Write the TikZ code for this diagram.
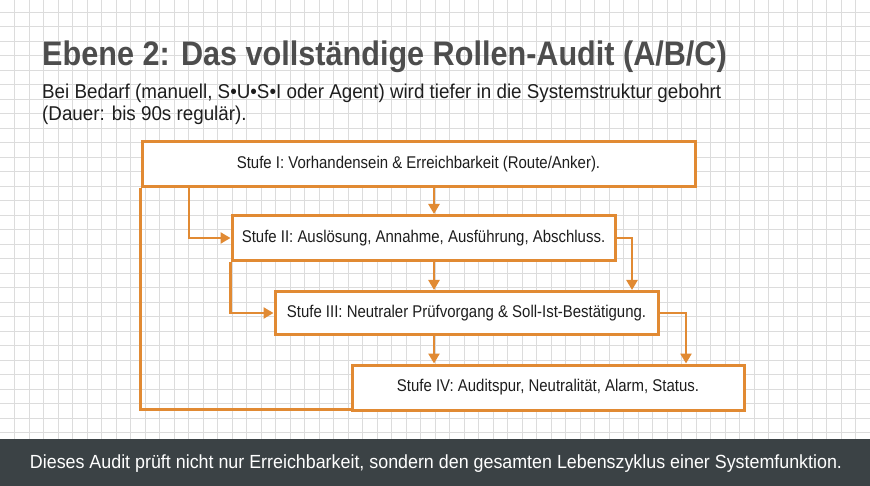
\documentclass[tikz,border=0pt]{standalone}
\usepackage{fontspec}
\setmainfont{Liberation Sans}
\newfontfamily\titlefont[FakeStretch=0.90]{Liberation Sans}
\newfontfamily\subfont[FakeStretch=0.94]{Liberation Sans}
\newfontfamily\boxfont[FakeStretch=0.88]{Liberation Sans}
\newfontfamily\footfont[FakeStretch=0.94]{Liberation Sans}
\usetikzlibrary{arrows.meta,calc}
\definecolor{gridc}{HTML}{DCDCDC}
\definecolor{orng}{HTML}{E18A33}
\definecolor{footc}{HTML}{3B4245}
\definecolor{titlec}{HTML}{4D4D4D}
\definecolor{txtc}{HTML}{1E1E1E}
\tikzset{
  stufe/.style={draw=orng, line width=3pt, fill=white, inner sep=0pt,
    minimum height=45pt, text=txtc, font=\boxfont\fontsize{17}{20}\selectfont},
  conn/.style={draw=orng, line width=2.5pt},
  arr/.style={conn, -{Triangle[width=11pt,length=10pt]}},
}
\begin{document}
\begin{tikzpicture}[x=1pt,y=-1pt]
\useasboundingbox (0,0) rectangle (870,486);
\fill[white] (0,0) rectangle (870,486);
% grid
\foreach \i in {1,...,59} {\draw[gridc, line width=0.8pt] (14.5*\i,0) -- (14.5*\i,439);}
\foreach \j in {0,...,29} {\draw[gridc, line width=0.8pt] (0,12.3+14.5*\j) -- (870,12.3+14.5*\j);}
% footer
\fill[footc] (0,439) rectangle (870,486);
\node[text=white, font=\footfont\fontsize{19}{23}\selectfont] (foot) at (436,464)
  {Dieses Audit prüft nicht nur Erreichbarkeit, sondern den gesamten Lebenszyklus einer Systemfunktion.};
% title
\node[anchor=base west, inner sep=0pt, text=titlec, font=\titlefont\bfseries\fontsize{34}{40}\selectfont] (title) at (42,66)
  {Ebene 2: Das vollständige Rollen-Audit (A/B/C)};
\node[anchor=base west, inner sep=0pt, text=txtc, font=\subfont\fontsize{20}{24}\selectfont] (sub1) at (42,99)
  {Bei Bedarf (manuell, S•U•S•I oder Agent) wird tiefer in die Systemstruktur gebohrt};
\node[anchor=base west, inner sep=0pt, text=txtc, font=\subfont\fontsize{20}{24}\selectfont] (sub2) at (42,121)
  {(Dauer: bis 90s regulär).};
% column coordinates
\coordinate (cm) at (434,0);
\coordinate (ca) at (189,0);
\coordinate (cb) at (632,0);
\coordinate (cc) at (686,0);
% boxes
\node[stufe, minimum width=553pt] (s1) at (418.5,164.5) {Stufe I: Vorhandensein \& Erreichbarkeit (Route/Anker).};
\node[stufe, minimum width=383pt] (s2) at (423.5,238) {Stufe II: Auslösung, Annahme, Ausführung, Abschluss.};
\node[stufe, minimum width=383pt, minimum height=43pt] (s3) at (466.5,313) {Stufe III: Neutraler Prüfvorgang \& Soll-Ist-Bestätigung.};
\node[stufe, minimum width=392pt] (s4) at (548,387.5) {Stufe IV: Auditspur, Neutralität, Alarm, Status.};
% connectors
\draw[arr] (s1.south -| cm) -- (s2.north -| cm);
\draw[arr] (s2.south -| cm) -- (s3.north -| cm);
\draw[arr] (s3.south -| cm) -- (s4.north -| cm);
\draw[arr] (s1.south -| ca) |- (s2.west);
\draw[arr] (s2.south west) |- (s3.west);
\draw[arr] (s2.east) -| (s3.north -| cb);
\draw[arr] (s3.east) -| (s4.north -| cc);
\draw[conn] ([yshift=2pt]s4.south west) -| (s1.south west);
% redraw boxes on top
\node[stufe, minimum width=553pt] at (s1) {Stufe I: Vorhandensein \& Erreichbarkeit (Route/Anker).};
\node[stufe, minimum width=383pt] at (s2) {Stufe II: Auslösung, Annahme, Ausführung, Abschluss.};
\node[stufe, minimum width=383pt, minimum height=43pt] at (s3) {Stufe III: Neutraler Prüfvorgang \& Soll-Ist-Bestätigung.};
\node[stufe, minimum width=392pt] at (s4) {Stufe IV: Auditspur, Neutralität, Alarm, Status.};
\end{tikzpicture}
\end{document}
